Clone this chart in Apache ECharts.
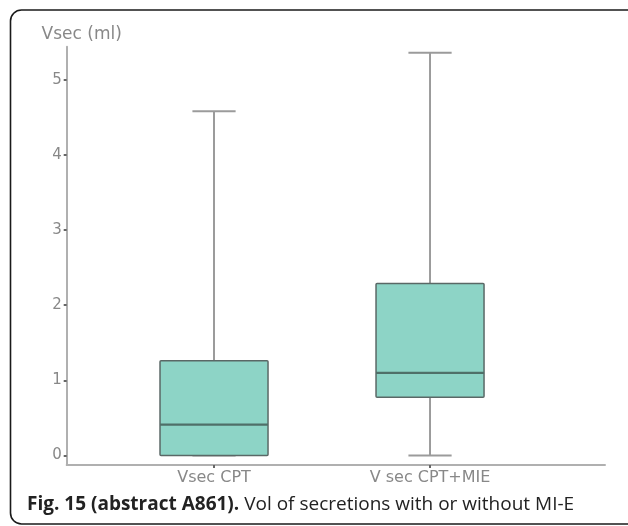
<!DOCTYPE html>
<html>
<head>
<meta charset="utf-8">
<script src="https://cdn.jsdelivr.net/npm/echarts@6/dist/echarts.min.js"></script>
<style>
html,body{margin:0;padding:0;background:#fff;}
#chart{width:628px;height:526px;}
</style>
</head>
<body>
<div id="chart"></div>
<script>
const categories = ['Vsec CPT', 'V sec CPT+MIE'];
const minVals = [0, 0];
const q1Vals = [0, 0.775];
const medianVals = [0.41, 1.10];
const q3Vals = [1.26, 2.29];
const maxVals = [4.58, 5.36];
const yTicks = [0, 1, 2, 3, 4, 5];

const boxData = categories.map((c, i) => [i + 1, minVals[i], q1Vals[i], medianVals[i], q3Vals[i], maxVals[i]]);

const chart = echarts.init(document.getElementById('chart'), null, {renderer: 'canvas'});

function renderBox(params, api) {
  const x = api.value(0);
  const vmin = api.value(1), vq1 = api.value(2), vmed = api.value(3), vq3 = api.value(4), vmax = api.value(5);
  const halfW = api.size([0.5, 0])[0] / 2;
  const capHalf = api.size([0.2, 0])[0] / 2;
  const pMin = api.coord([x, vmin]);
  const pQ1 = api.coord([x, vq1]);
  const pMed = api.coord([x, vmed]);
  const pQ3 = api.coord([x, vq3]);
  const pMax = api.coord([x, vmax]);
  const cx = pMin[0];
  const whiskerStyle = {stroke: '#9b9b9b', lineWidth: 2};
  return {
    type: 'group',
    children: [
      {type: 'line', shape: {x1: cx, y1: pQ3[1], x2: cx, y2: pMax[1]}, style: whiskerStyle},
      {type: 'line', shape: {x1: cx - capHalf, y1: pMax[1], x2: cx + capHalf, y2: pMax[1]}, style: whiskerStyle},
      {type: 'line', shape: {x1: cx, y1: pMin[1], x2: cx, y2: pQ1[1]}, style: whiskerStyle},
      {type: 'line', shape: {x1: cx - capHalf, y1: pMin[1], x2: cx + capHalf, y2: pMin[1]}, style: whiskerStyle},
      {type: 'rect', shape: {x: cx - halfW, y: pQ3[1], width: halfW * 2, height: pQ1[1] - pQ3[1], r: 1},
        style: {fill: '#8dd4c6', stroke: '#5a6866', lineWidth: 1.5}},
      {type: 'line', shape: {x1: cx - halfW, y1: pMed[1], x2: cx + halfW, y2: pMed[1]},
        style: {stroke: '#4f6f68', lineWidth: 2.2}}
    ]
  };
}

const option = {
  backgroundColor: '#ffffff',
  animation: false,
  grid: {left: 66.7, right: 23, top: 46.7, bottom: 61, containLabel: false},
  xAxis: {
    type: 'value',
    min: 0.318,
    max: 2.81,
    splitLine: {show: false},
    axisLine: {show: true, onZero: false, lineStyle: {color: '#b0b0b0', width: 2}},
    axisTick: {show: true, customValues: [1, 2], length: 3, inside: false, lineStyle: {color: '#666', width: 2}},
    axisLabel: {
      show: true, customValues: [1, 2], margin: 5,
      formatter: v => categories[Math.round(v) - 1] || '',
      color: '#888', fontFamily: 'DejaVu Sans', fontSize: 16
    }
  },
  yAxis: {
    type: 'value',
    min: -0.127,
    max: 5.44,
    name: 'Vsec (ml)',
    nameLocation: 'end',
    nameGap: 4,
    nameTextStyle: {color: '#888', fontFamily: 'DejaVu Sans', fontSize: 17, align: 'center', padding: [0, 0, 0, 30]},
    splitLine: {show: false},
    axisLine: {show: true, onZero: false, lineStyle: {color: '#b0b0b0', width: 2}},
    axisTick: {show: true, customValues: yTicks, length: 3, lineStyle: {color: '#666', width: 2}},
    axisLabel: {
      show: true, customValues: yTicks, margin: 5,
      color: '#888', fontFamily: 'DejaVu Sans', fontSize: 15
    }
  },
  graphic: [
    {type: 'rect', z: 100, shape: {x: 10.5, y: 10, width: 630, height: 514, r: 11},
      style: {fill: null, stroke: '#1a1a1a', lineWidth: 1.6}},
    {type: 'text', z: 100, left: 27, top: 495,
      style: {
        text: '{b|Fig. 15 (abstract A861).} Vol of secretions with or without MI-E',
        font: '19px "Open Sans"',
        fill: '#222',
        rich: {b: {fontWeight: 'bold', fontFamily: 'Open Sans', fontSize: 19, fill: '#222'}}
      }}
  ],
  series: [{
    type: 'custom',
    renderItem: renderBox,
    data: boxData,
    encode: {x: 0, y: [1, 2, 3, 4, 5]},
    clip: false
  }]
};
chart.setOption(option);
</script>
</body>
</html>
